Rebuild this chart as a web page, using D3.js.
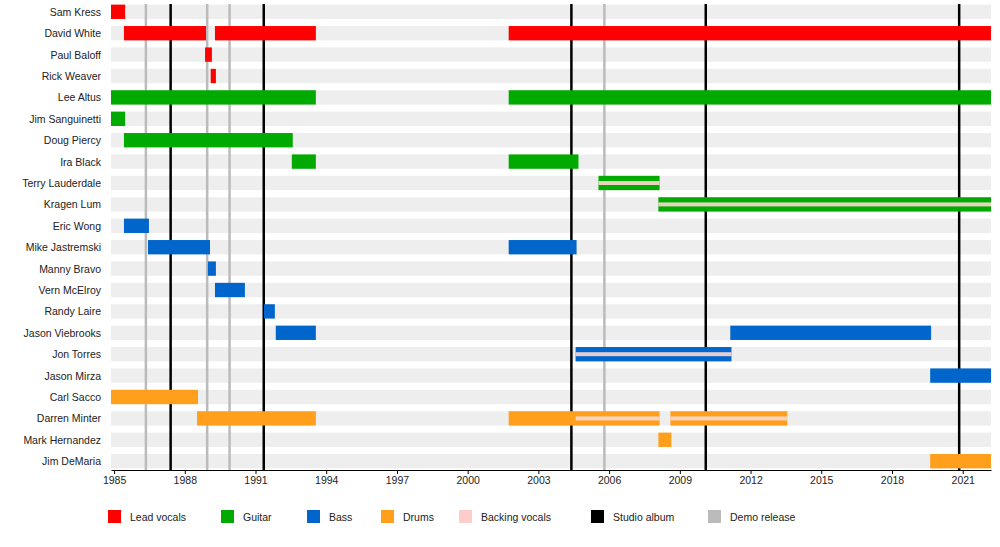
<!DOCTYPE html>
<html><head><meta charset="utf-8">
<script src="https://cdn.jsdelivr.net/npm/d3@7"></script>
<style>body{margin:0;background:#fff}text{font-family:"Liberation Sans",Arial,sans-serif;font-size:10.5px;fill:#222}</style>
</head><body><svg id="c" width="1000" height="547"></svg>
<script>
const members=["Sam Kress","David White","Paul Baloff","Rick Weaver","Lee Altus","Jim Sanguinetti","Doug Piercy","Ira Black","Terry Lauderdale","Kragen Lum","Eric Wong","Mike Jastremski","Manny Bravo","Vern McElroy","Randy Laire","Jason Viebrooks","Jon Torres","Jason Mirza","Carl Sacco","Darren Minter","Mark Hernandez","Jim DeMaria"];
// [member, role, start, end]
const spans=[
["Sam Kress","vocals",1984.87,1985.47],
["David White","vocals",1985.42,1988.9],["David White","vocals",1989.28,1993.56],["David White","vocals",2001.74,2022.2],
["Paul Baloff","vocals",1988.86,1989.15],
["Rick Weaver","vocals",1989.1,1989.32],
["Lee Altus","guitar",1984.87,1993.56],["Lee Altus","guitar",2001.74,2022.2],
["Jim Sanguinetti","guitar",1984.87,1985.47],
["Doug Piercy","guitar",1985.42,1992.58],
["Ira Black","guitar",1992.54,1993.56],["Ira Black","guitar",2001.74,2004.7],
["Terry Lauderdale","guitar",2005.55,2008.14],
["Kragen Lum","guitar",2008.09,2022.2],
["Eric Wong","bass",1985.42,1986.48],
["Mike Jastremski","bass",1986.44,1989.07],["Mike Jastremski","bass",2001.74,2004.62],
["Manny Bravo","bass",1988.98,1989.32],
["Vern McElroy","bass",1989.28,1990.55],
["Randy Laire","bass",1991.36,1991.82],
["Jason Viebrooks","bass",1991.86,1993.56],["Jason Viebrooks","bass",2011.14,2019.66],
["Jon Torres","bass",2004.58,2011.19],
["Jason Mirza","bass",2019.62,2022.2],
["Carl Sacco","drums",1984.87,1988.56],
["Darren Minter","drums",1988.52,1993.56],["Darren Minter","drums",2001.74,2008.14],["Darren Minter","drums",2008.6,2013.56],
["Mark Hernandez","drums",2008.09,2008.64],
["Jim DeMaria","drums",2019.62,2022.2]
];
const backing=[["Terry Lauderdale",2005.55,2008.14],["Kragen Lum",2008.09,2022.2],["Jon Torres",2004.58,2011.19],["Darren Minter",2004.58,2008.14],["Darren Minter",2008.6,2013.56]];
const studioAlbums=[1987.4,1991.35,2004.4,2010.1,2020.85];
const demos=[1986.35,1988.95,1989.9,2005.8];
const tickYears=[1985,1988,1991,1994,1997,2000,2003,2006,2009,2012,2015,2018,2021];
const colors={vocals:"#ff0000",guitar:"#00aa00",bass:"#0066cc",drums:"#ff9f1c"};
const legend=[["Lead vocals","#ff0000"],["Guitar","#00aa00"],["Bass","#0066cc"],["Drums","#ff9f1c"],["Backing vocals","#ffcccc"],["Studio album","#000"],["Demo release","#bbbbbb"]];
const legendX=[108,221,307,381,459,591,708];

const svg=d3.select("#c");
const x=d3.scaleLinear().domain([1984.87,2022.2]).range([111,991]);
const y=d3.scaleBand().domain(members).range([1,472]).paddingInner(0.33).paddingOuter(0.17);
const g=svg.append("g");
g.selectAll(".bg").data(members).join("rect").attr("x",111).attr("width",880)
 .attr("y",d=>y(d)).attr("height",y.bandwidth()).attr("fill","#eeeeee");
g.selectAll(".lab").data(members).join("text").attr("x",101).attr("y",d=>y(d)+y.bandwidth()/2+4)
 .attr("text-anchor","end").text(d=>d);
g.selectAll(".demo").data(demos).join("line").attr("x1",d=>x(d)).attr("x2",d=>x(d)).attr("y1",4).attr("y2",470)
 .attr("stroke","#bbbbbb").attr("stroke-width",2.5);
g.selectAll(".alb").data(studioAlbums).join("line").attr("x1",d=>x(d)).attr("x2",d=>x(d)).attr("y1",4).attr("y2",470)
 .attr("stroke","#000").attr("stroke-width",2.5);
g.selectAll(".bar").data(spans).join("rect").attr("x",d=>x(d[2])).attr("width",d=>x(d[3])-x(d[2]))
 .attr("y",d=>y(d[0])).attr("height",y.bandwidth()).attr("fill",d=>colors[d[1]]);
g.selectAll(".bk").data(backing).join("rect").attr("x",d=>x(d[1])).attr("width",d=>x(d[2])-x(d[1]))
 .attr("y",d=>y(d[0])+y.bandwidth()/2-2).attr("height",4).attr("fill","#ffd8d0").attr("opacity",0.9);
const ax=svg.append("g").attr("transform","translate(0,470)")
 .call(d3.axisBottom(x).tickValues(tickYears).tickFormat(d3.format("d")).tickSize(4).tickSizeOuter(0));
ax.select(".domain").attr("stroke","#000");
ax.selectAll("text").style("font-size","10.5px").style("font-family","Liberation Sans, Arial").attr("fill","#222");
const lg=svg.append("g");
lg.selectAll("rect").data(legend).join("rect").attr("x",(d,i)=>legendX[i]).attr("y",510).attr("width",13).attr("height",13).attr("fill",d=>d[1]);
lg.selectAll("text").data(legend).join("text").attr("x",(d,i)=>legendX[i]+22).attr("y",521).text(d=>d[0]);
</script></body></html>
